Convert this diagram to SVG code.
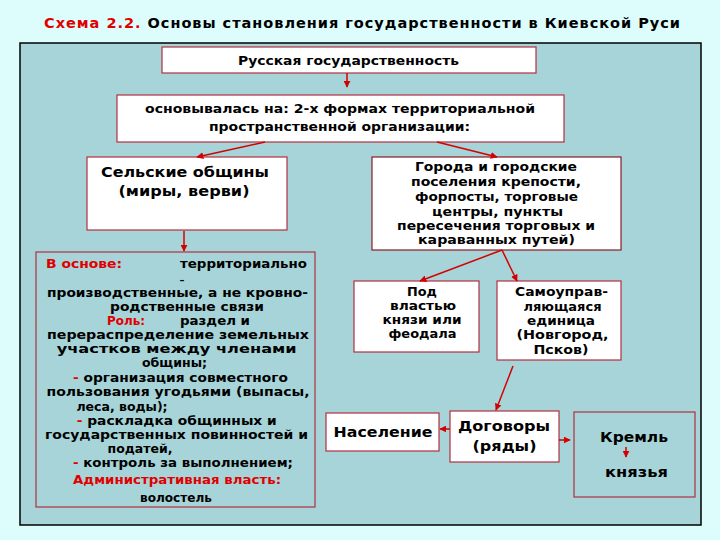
<svg xmlns="http://www.w3.org/2000/svg" width="720" height="540" viewBox="0 0 720 540">
<defs>
<marker id="ah" viewBox="0 0 10 10" refX="9" refY="5" markerWidth="7" markerHeight="7" markerUnits="userSpaceOnUse" orient="auto">
<path d="M0,0 L10,5 L0,10 z" fill="#d40000"/>
</marker>
<style>
.t{font-family:"DejaVu Sans","Noto Sans",sans-serif;font-weight:bold;fill:#000}
.r{fill:#e00000}
.box{fill:#fff;stroke:#b23040;stroke-width:1.2}
.box2{fill:#a6d4d8;stroke:#b23040;stroke-width:1.2}
.c{stroke:#d40000;stroke-width:1.5;fill:none;marker-end:url(#ah)}
.m{text-anchor:middle}
.s12{font-size:12.5px}
.s125{font-size:13px}
.s14{font-size:14.5px}
</style>
</defs>
<rect x="0" y="0" width="720" height="540" fill="#ddfdfd"/>
<text class="t" x="44" y="28" font-size="14.5" textLength="636"><tspan class="r">Схема 2.2.</tspan> Основы становления государственности в Киевской Руси</text>
<rect x="20" y="43" width="681" height="482" fill="#a6d4d8" stroke="#000" stroke-width="1.5"/>

<g id="n1">
<rect class="box" x="162" y="47" width="374" height="26"/>
<text class="t s125 m" x="348.5" y="65" textLength="221" lengthAdjust="spacingAndGlyphs">Русская государственность</text>
</g>
<g id="n2">
<rect class="box" x="117" y="95" width="447" height="47"/>
<text class="t s125 m" x="340" y="113" textLength="390" lengthAdjust="spacingAndGlyphs">основывалась на: 2-х формах территориальной</text>
<text class="t s125 m" x="339.5" y="131" textLength="261" lengthAdjust="spacingAndGlyphs">пространственной организации:</text>
</g>
<g id="n3">
<rect class="box" x="87" y="157" width="200" height="73"/>
<text class="t s14 m" x="185" y="177" textLength="168" lengthAdjust="spacingAndGlyphs">Сельские общины</text>
<text class="t s14 m" x="184" y="196" textLength="131" lengthAdjust="spacingAndGlyphs">(миры, верви)</text>
</g>
<g id="n4">
<rect class="box2" x="36" y="252" width="279" height="255"/>
<text class="t s12 r" x="46" y="268" textLength="76" lengthAdjust="spacingAndGlyphs">В основе:</text>
<text class="t s12" x="180" y="268" textLength="127" lengthAdjust="spacingAndGlyphs">территориально</text>
<text class="t" font-size="9" x="179.5" y="282.5" textLength="5" lengthAdjust="spacingAndGlyphs">-</text>
<text class="t s12 m" x="177.5" y="297" textLength="261" lengthAdjust="spacingAndGlyphs">производственные, а не кровно-</text>
<text class="t s12 m" x="187" y="311" textLength="154" lengthAdjust="spacingAndGlyphs">родственные связи</text>
<text class="t s12 r" x="107" y="325" textLength="38" lengthAdjust="spacingAndGlyphs">Роль:</text>
<text class="t s12" x="180" y="325" textLength="70" lengthAdjust="spacingAndGlyphs">раздел и</text>
<text class="t s12 m" x="178" y="339" textLength="262" lengthAdjust="spacingAndGlyphs">перераспределение  земельных</text>
<text class="t s12 m" x="176.7" y="353" textLength="240" lengthAdjust="spacingAndGlyphs">участков между членами</text>
<text class="t s12 m" x="174.5" y="367" textLength="65" lengthAdjust="spacingAndGlyphs">общины;</text>
<text class="t s12" x="73" y="382" textLength="215" lengthAdjust="spacingAndGlyphs"><tspan class="r">-</tspan> организация совместного</text>
<text class="t s12 m" x="178" y="396" textLength="263" lengthAdjust="spacingAndGlyphs">пользования угодьями (выпасы,</text>
<text class="t s12 m" x="122" y="411">леса, воды);</text>
<text class="t s12" x="76.7" y="425" textLength="200" lengthAdjust="spacingAndGlyphs"><tspan class="r">-</tspan> раскладка общинных и</text>
<text class="t s12 m" x="176.5" y="439" textLength="263" lengthAdjust="spacingAndGlyphs">государственных повинностей и</text>
<text class="t s12 m" x="140" y="453">податей,</text>
<text class="t s12" x="73" y="467" textLength="220" lengthAdjust="spacingAndGlyphs"><tspan class="r">-</tspan> контроль за выполнением;</text>
<text class="t s12 m r" x="177" y="484" textLength="208" lengthAdjust="spacingAndGlyphs">Административная власть:</text>
<text class="t s12 m" x="176" y="502" textLength="72" lengthAdjust="spacingAndGlyphs">волостель</text>
</g>
<g id="n5">
<rect class="box" x="372" y="157" width="249" height="93" style="stroke:#8a1c24"/>
<text class="t s125 m" x="496" y="171" textLength="162" lengthAdjust="spacingAndGlyphs">Города и городские</text>
<text class="t s125 m" x="496" y="186" textLength="170" lengthAdjust="spacingAndGlyphs">поселения крепости,</text>
<text class="t s125 m" x="496.5" y="201" textLength="163" lengthAdjust="spacingAndGlyphs">форпосты, торговые</text>
<text class="t s125 m" x="497.5" y="216" textLength="131" lengthAdjust="spacingAndGlyphs">центры, пункты</text>
<text class="t s125 m" x="496" y="230" textLength="198" lengthAdjust="spacingAndGlyphs">пересечения торговых и</text>
<text class="t s125 m" x="496.5" y="244" textLength="157" lengthAdjust="spacingAndGlyphs">караванных путей)</text>
</g>
<g id="n6">
<rect class="box" x="354" y="281" width="125" height="71"/>
<text class="t s125 m" x="422" y="296" textLength="30" lengthAdjust="spacingAndGlyphs">Под</text>
<text class="t s125 m" x="423" y="310" textLength="66" lengthAdjust="spacingAndGlyphs">властью</text>
<text class="t s125 m" x="422" y="324" textLength="79" lengthAdjust="spacingAndGlyphs">князи или</text>
<text class="t s125 m" x="422.5" y="338" textLength="68" lengthAdjust="spacingAndGlyphs">феодала</text>
</g>
<g id="n7">
<rect class="box" x="497" y="281" width="124" height="79"/>
<text class="t s125 m" x="561.5" y="296" textLength="93" lengthAdjust="spacingAndGlyphs">Самоуправ-</text>
<text class="t s125 m" x="562.5" y="310.5" textLength="78" lengthAdjust="spacingAndGlyphs">ляющаяся</text>
<text class="t s125 m" x="561" y="324.5" textLength="68" lengthAdjust="spacingAndGlyphs">единица</text>
<text class="t s125 m" x="562.5" y="339" textLength="92" lengthAdjust="spacingAndGlyphs">(Новгород,</text>
<text class="t s125 m" x="561" y="354" textLength="55" lengthAdjust="spacingAndGlyphs">Псков)</text>
</g>
<g id="n8">
<rect class="box" x="326" y="413" width="113" height="38"/>
<text class="t m" font-size="14.5" x="383" y="437" textLength="99" lengthAdjust="spacingAndGlyphs">Население</text>
</g>
<g id="n9">
<rect class="box" x="450" y="411" width="109" height="51"/>
<text class="t m" font-size="14.5" x="504" y="431" textLength="92" lengthAdjust="spacingAndGlyphs">Договоры</text>
<text class="t m" font-size="14.5" x="504.5" y="451" textLength="64" lengthAdjust="spacingAndGlyphs">(ряды)</text>
</g>
<g id="n10">
<rect class="box2" x="574" y="412" width="121" height="85"/>
<text class="t m" font-size="14.5" x="634" y="442" textLength="68" lengthAdjust="spacingAndGlyphs">Кремль</text>
<text class="t m" font-size="14.5" x="636.5" y="477" textLength="63" lengthAdjust="spacingAndGlyphs">князья</text>
</g>
<g id="connectors">
<line class="c" x1="347" y1="73" x2="347" y2="87"/>
<line class="c" x1="265" y1="142" x2="197" y2="157"/>
<line class="c" x1="437" y1="142" x2="497" y2="157"/>
<line class="c" x1="184" y1="231" x2="184" y2="251"/>
<line class="c" x1="502" y1="250" x2="420" y2="281"/>
<line class="c" x1="502" y1="250" x2="517" y2="281"/>
<line class="c" x1="513" y1="366" x2="496" y2="410"/>
<line class="c" x1="450" y1="429" x2="440" y2="429"/>
<line class="c" x1="559" y1="440" x2="570" y2="440"/>
<line class="c" x1="626" y1="447" x2="626" y2="457"/>
</g>
</svg>
